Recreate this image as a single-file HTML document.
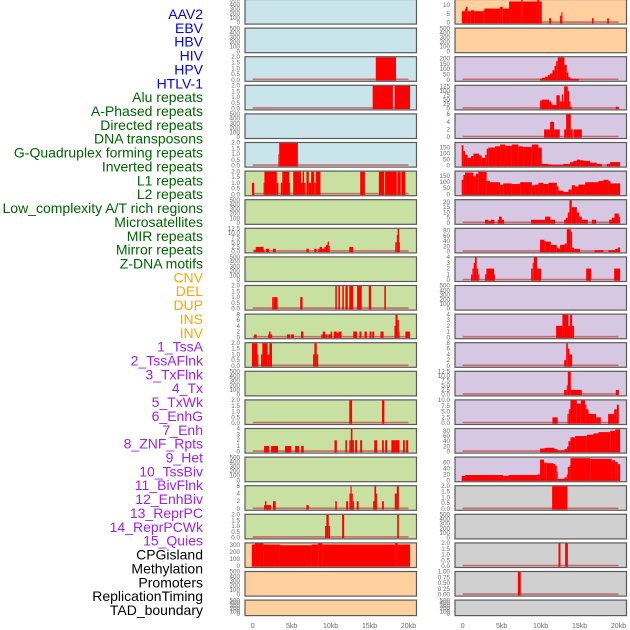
<!DOCTYPE html>
<html><head><meta charset="utf-8"><style>
html,body{margin:0;padding:0;background:#fff;width:630px;height:630px;overflow:hidden}
svg{display:block;font-family:"Liberation Sans",sans-serif}
</style></head><body>
<svg id="chart" width="630" height="630" viewBox="0 0 630 630"></svg>
<script>
const labels=["AAV2","EBV","HBV","HIV","HPV","HTLV-1","Alu repeats","A-Phased repeats","Directed repeats","DNA transposons","G-Quadruplex forming repeats","Inverted repeats","L1 repeats","L2 repeats","Low_complexity A/T rich regions","Microsatellites","MIR repeats","Mirror repeats","Z-DNA motifs","CNV","DEL","DUP","INS","INV","1_TssA","2_TssAFlnk","3_TxFlnk","4_Tx","5_TxWk","6_EnhG","7_Enh","8_ZNF_Rpts","9_Het","10_TssBiv","11_BivFlnk","12_EnhBiv","13_ReprPC","14_ReprPCWk","15_Quies","CPGisland","Methylation","Promoters","ReplicationTiming","TAD_boundary"];
const labelGroups=["v","v","v","v","v","v","r","r","r","r","r","r","r","r","r","r","r","r","r","c","c","c","c","c","s","s","s","s","s","s","s","s","s","s","s","s","s","s","s","o","o","o","o","o"];
const xTicks=[0,5,10,15,20];
const xTickLabels=["0","5kb","10kb","15kb","20kb"];
// middle column: [max, ticks, segments [startKb,endKb,value]] ; null = empty panel
const midMax=[null,null,2,2,null,2,2,null,12.5,null,2,8,2,null,2,4,null,6,2,330,null,null];
const midTicks=[null,null,[0,0.5,1,1.5,2],[0,0.5,1,1.5,2],null,[0,0.5,1,1.5,2],[0,0.5,1,1.5,2],null,[0,2.5,5,7.5,10,12.5],null,[0,0.5,1,1.5,2],[0,2,4,6,8],[0,0.5,1,1.5,2],null,[0,0.5,1,1.5,2],[0,1,2,3,4],null,[0,2,4,6],[0,0.5,1,1.5,2],[0,100,200,300],null,null];
const midBg=["b","b","b","b","b","b","g","g","g","g","g","g","g","g","g","g","g","g","g","o","o","o"];
const midSegs=[[],[],
[[15.8,18.4,2]],
[[15.4,18.0,2],[18.2,20.2,2]],
[],
[[3.3,3.4,1],[3.4,5.8,2]],
[[-0.1,0.2,1],[1.4,1.5,1],[1.5,3.1,2],[3.1,3.3,1],[3.6,3.8,1],[3.8,4.7,2],[4.7,4.8,1],[5.2,6.2,2],[6.2,6.4,1],[6.4,6.6,2],[6.6,6.8,1],[6.9,7.2,2],[7.2,7.5,1],[7.5,7.9,2],[7.9,8.1,1],[8.1,8.7,2],[13.8,14.4,2],[16.2,16.9,2],[17.0,18.5,2],[18.6,19.0,2],[19.1,19.6,2]],
[],
[[0.2,0.4,1],[0.4,1.4,2.5],[1.4,1.5,1],[1.7,2.1,1.5],[2.6,2.96,1.5],[6.9,7.2,1.5],[7.9,8.2,1.5],[8.4,8.6,1.5],[8.6,8.9,2.5],[8.9,9.2,1.5],[9.2,9.4,2.5],[9.4,9.6,3.5],[9.6,9.7,5],[9.7,9.8,5.5],[9.8,9.9,3],[12.4,12.9,2.5],[18.3,18.5,5],[18.5,18.6,9],[18.6,18.8,12.5],[18.8,18.9,5]],
[],
[[2.5,2.7,1],[2.7,3.2,1],[6.1,6.4,1],[10.6,10.8,2],[11.0,11.2,2],[11.5,11.7,2],[11.9,12.2,2],[12.4,12.9,2],[13.4,14.0,2],[14.9,15.2,2],[16.9,17.1,2]],
[[0.2,0.5,1],[1.97,2.1,1],[2.1,2.3,2],[2.3,2.5,1],[4.4,4.8,1],[4.9,5.3,1],[6.2,6.5,2],[8.8,9.0,1],[9.0,9.3,2],[9.3,9.6,1],[9.7,10.0,1],[10.0,10.2,2],[10.4,10.8,2],[10.8,11.0,1.5],[11.0,11.4,2],[12.9,13.4,2],[13.7,13.96,2],[14.35,14.65,2],[15.0,15.25,2],[15.35,15.6,2],[16.4,16.8,2],[18.2,18.33,4],[18.33,18.6,8],[18.6,18.76,6],[18.76,18.85,2],[19.6,20.2,2]],
[[-0.1,0.6,2],[0.6,0.73,1],[1.07,1.24,1],[1.24,1.92,2],[1.92,2.14,1],[2.14,2.48,2],[7.75,7.92,1],[7.92,8.22,2],[8.22,8.4,1]],
[],
[[12.4,12.76,2],[16.6,16.9,2]],
[[1.46,2.1,1],[2.36,3.25,1],[4.15,4.93,1],[5.44,5.95,1],[6.21,6.55,1],[10.5,10.8,2],[11.9,12.1,2],[12.4,12.6,2],[12.6,12.8,4],[12.8,13.0,2],[13.15,13.4,2],[13.8,14.05,2],[15.6,15.97,2],[16.6,16.83,2],[17.0,17.26,2],[17.8,18.3,2],[18.3,18.84,2],[19.3,19.53,2],[19.7,19.96,2]],
[],
[[1.46,1.58,1],[1.58,1.76,2],[1.76,2.35,1],[2.6,2.96,2],[6.9,7.2,1],[10.6,10.8,2],[12.0,12.25,2],[12.42,12.55,4],[12.55,12.7,6],[12.7,12.85,4],[12.85,13.0,2],[13.36,13.6,2],[15.46,15.63,2],[15.63,15.84,6],[15.84,15.97,4],[16.6,16.83,2],[18.24,18.5,4],[18.5,18.76,6]],
[[9.29,9.46,1],[9.46,9.76,2],[9.76,9.93,1],[11.48,11.74,2],[18.55,18.76,2]],
[[-0.1,0.3,310],[0.3,1.4,330],[1.4,3.5,310],[3.5,7.6,300],[7.6,8.4,310],[8.4,8.95,330],[8.95,18.3,310],[18.3,18.6,330],[18.6,20.2,310]],
[],[]];
const rightMax=[13,null,215,130,6,190,190,22,88,4,null,4,8,12.5,10,88,78,2,null,2,1,null];
const rightTicks=[[0,5,10],null,[0,50,100,150,200],[0,25,50,75,100,125],[0,2,4,6],[0,50,100,150],[0,50,100,150],[0,5,10,15,20],[0,20,40,60,80],[0,1,2,3,4],null,[0,1,2,3,4],[0,2,4,6,8],[0,2.5,5,7.5,10,12.5],[0,2.5,5,7.5,10],[0,20,40,60,80],[0,20,40,60],[0,0.5,1,1.5,2],null,[0,0.5,1,1.5,2],[0,0.25,0.5,0.75,1],null];
const rightTickFmt=[0,0,0,0,0,0,0,0,0,0,0,0,0,1,1,0,0,1,0,1,2,0];
const midTickFmt=[0,0,1,1,0,1,1,0,1,0,1,0,1,0,1,0,0,0,1,0,0,0];
const rightBg=["o","o","p","p","p","p","p","p","p","p","p","p","p","p","p","p","p","k","k","k","k","k"];
const rightSegs=[
[[-0.1,0.3,6.5],[0.3,0.43,8],[0.43,0.64,9],[0.64,1.03,6.5],[1.03,1.5,7],[1.5,2.65,6.5],[2.65,2.78,7],[2.78,4.8,8],[4.8,5.14,9],[5.14,5.95,8],[5.95,7.5,12],[7.5,7.7,13],[7.7,9.55,12],[9.55,9.85,13],[9.85,10.15,12],[11.1,11.35,2.5],[12.5,12.67,4],[12.67,12.8,6],[16.6,16.8,2.5],[18.55,18.76,2.5]],
[],
[[9.93,10.15,10],[10.15,10.58,20],[10.58,10.92,30],[10.92,11.22,45],[11.22,11.52,60],[11.52,11.78,90],[11.78,11.99,130],[11.99,12.2,175],[12.2,13.06,210],[13.06,13.36,140],[13.36,13.57,70],[13.57,13.83,25],[13.83,14.9,10]],
[[9.93,10.15,45],[10.15,11.09,50],[11.09,11.35,40],[11.35,11.52,30],[11.52,12.03,20],[12.03,12.46,75],[12.46,12.72,40],[12.72,12.89,80],[12.89,13.02,40],[13.02,13.49,125],[13.49,13.66,100],[13.66,13.83,40],[13.83,14.0,10],[19.66,20.05,10]],
[[10.45,11.22,2],[11.22,11.73,4],[11.73,12.46,2],[13.02,13.28,2],[13.28,13.88,6],[13.88,14.13,2],[14.22,15.29,2]],
[[-0.13,0.09,170],[0.09,0.3,120],[0.3,0.64,90],[0.64,1.07,65],[1.07,1.37,80],[1.37,2.1,100],[2.1,2.44,85],[2.44,2.87,65],[2.87,3.08,90],[3.08,3.3,140],[3.3,4.15,150],[4.15,4.8,160],[4.8,5.44,175],[5.44,6.3,165],[6.3,7.15,175],[7.15,7.79,160],[7.79,8.87,155],[8.87,9.72,175],[9.72,10.15,150],[10.15,11.0,15],[11.0,11.43,10],[11.43,12.93,5],[12.93,13.79,15],[13.79,14.22,30],[14.22,14.65,40],[14.65,15.07,50],[15.07,15.5,45],[15.5,16.36,40],[16.36,17.2,25],[17.2,17.86,15],[18.5,18.93,15],[18.93,20.21,30]],
[[-0.13,0.09,120],[0.09,0.3,160],[0.3,1.37,180],[1.37,1.67,150],[1.67,2.0,170],[2.0,3.08,185],[3.08,3.5,110],[3.5,4.8,100],[4.8,5.22,80],[5.22,6.3,90],[6.3,7.37,85],[7.37,8.87,100],[8.87,9.29,75],[9.29,9.72,80],[9.72,10.36,95],[10.36,11.0,85],[11.0,12.08,95],[12.08,12.3,65],[12.3,12.93,30],[12.93,13.58,20],[13.58,14.0,40],[14.0,14.43,75],[14.43,14.86,65],[14.86,15.72,80],[15.72,17.43,100],[17.43,18.07,110],[18.07,18.71,120],[18.71,18.97,110],[18.97,20.21,90]],
[[2.87,3.3,3],[3.3,3.64,2],[3.64,4.07,3],[4.5,4.67,3],[4.67,5.01,6],[5.01,5.31,3],[8.78,10.58,3],[10.58,11.26,6],[11.26,11.86,3],[13.02,13.23,3],[13.23,13.49,5],[13.49,13.7,10],[13.7,14.0,22],[14.0,14.65,15],[14.65,14.95,10],[14.95,15.29,6],[15.29,16.06,3],[16.57,17.13,3],[18.8,19.14,3],[19.14,19.49,5],[19.49,20.04,9],[20.04,20.21,6]],
[[9.93,10.49,45],[10.49,10.66,40],[10.66,11.31,38],[11.31,12.08,25],[12.08,12.3,15],[12.3,12.5,10],[12.5,13.06,25],[13.06,13.36,30],[13.36,13.88,85],[13.88,14.05,75],[14.05,14.3,15],[14.3,15.07,10],[16.92,18.07,5],[18.71,19.57,5],[19.57,19.91,10],[19.91,20.21,15]],
[[1.07,1.24,1],[1.24,1.41,2],[1.41,1.58,3],[1.58,1.8,4],[1.8,2.0,2],[2.0,2.14,1],[2.87,3.04,1],[3.04,4.03,2],[4.03,4.15,1],[8.78,8.99,2],[8.99,9.12,3],[9.12,9.55,4],[9.55,9.72,2],[9.72,10.06,2],[15.85,16.49,2],[19.44,20.21,2]],
[],
[[11.99,12.8,2],[12.8,13.58,4],[13.58,13.79,2],[13.79,14.05,4],[14.05,14.3,2]],
[[13.02,13.28,2],[13.28,13.49,8],[13.49,13.7,6],[13.7,14.05,4]],
[[13.02,13.36,2.5],[13.36,13.49,5],[13.49,13.88,12.5],[13.88,15.29,2.5],[19.66,20.04,2.5]],
[[11.52,12.2,2.5],[13.45,13.62,4],[13.62,13.83,6],[13.83,14.65,10],[14.65,15.16,8.5],[15.16,15.72,10],[15.72,15.89,8],[15.89,16.15,6],[16.15,17.13,4],[17.13,17.73,2.5],[18.67,19.44,4],[19.44,19.79,6],[19.79,20.04,8]],
[[9.93,10.49,12],[10.49,11.78,15],[11.78,12.2,10],[12.2,13.06,5],[13.06,13.4,10],[13.4,13.58,20],[13.58,13.83,40],[13.83,14.43,55],[14.43,15.93,60],[15.93,16.79,65],[16.79,17.43,70],[17.43,18.93,75],[18.93,19.57,80],[19.57,20.21,85]],
[[-0.13,0.3,15],[0.3,5.22,18],[5.22,5.87,15],[5.87,9.59,18],[9.59,9.93,20],[9.93,10.45,70],[10.45,10.79,60],[10.79,11.65,58],[11.65,11.86,55],[11.86,12.08,50],[12.08,12.2,30],[12.2,13.06,5],[13.06,13.36,10],[13.36,13.49,20],[13.49,13.7,45],[13.7,13.83,50],[13.83,16.36,75],[16.36,19.14,73],[19.14,19.57,68],[19.57,19.91,62],[19.91,20.21,55]],
[[11.48,13.45,2]],
[],
[[12.3,12.55,2],[13.15,13.5,2]],
[[7.08,7.45,1]],
[]];
const emptyTicks=[0,100,200,300,400,500];

const NS="http://www.w3.org/2000/svg";
const svg=document.getElementById("chart");
function mk(tag,attrs,parent){const e=document.createElementNS(NS,tag);for(const k in attrs)e.setAttribute(k,attrs[k]);(parent||svg).appendChild(e);return e;}
const bgColors={b:"#c9e4eb",g:"#c9e0a3",o:"#fdd09e",p:"#d6c7e3",k:"#d0d0d0"};
const groupColors={v:"#0000ee",r:"#006400",c:"#ffa500",s:"#a020f0",o:"#000000"};

// labels
labels.forEach((t,i)=>{
  const el=mk("text",{x:203,y:14+i*13.86+5,"text-anchor":"end","font-size":"14",fill:groupColors[labelGroups[i]]});
  el.textContent=t;
  
  
});

function panel(col,i,maxV,ticks,fmt,bg,segs){
  const left=col===0?245:455, right=col===0?416.5:626.5;
  const x0=left+7.7, kbW=7.79;
  const xs=kb=>x0+kb*kbW;
  const top=-0.5+28.6*i, H=(i===21?15.5:24.6);
  const g=mk("g",{});
  
  
  mk("rect",{x:left,y:top,width:right-left,height:H,fill:bgColors[bg],stroke:"#5a5a5a","stroke-width":1.2},g);
  const base=top+H-1.4, span=H-1.6;
  const isEmpty=maxV===null;
  const m=isEmpty?500:maxV;
  const ys=v=>base-v/m*span;
  const tk=isEmpty?emptyTicks:ticks;
  tk.forEach(v=>{
    const t=mk("text",{x:left-5,y:ys(v)+2,"text-anchor":"end","font-size":"6.3",fill:"#6a6a6a"},g);
    t.textContent=isEmpty?String(v):v.toFixed(fmt);
    
    
  });
  if(isEmpty)return;
  const bl=mk("line",{x1:xs(0),x2:xs(20),y1:base-0.6,y2:base-0.6,stroke:"rgba(200,70,70,0.75)","stroke-width":1.6},g);
  
  
  segs.forEach(s=>{
    const x1=Math.max(xs(s[0]),left+0.6), x2=Math.min(xs(s[1]),right-0.6);
    const y=ys(Math.min(s[2],m));
    const r=mk("rect",{x:x1,y:Math.max(y,top+0.6),width:Math.max(x2-x1,0.8),height:base-Math.max(y,top+0.6)+0.6,fill:"#ff0000"},g);
    
    
  });
}
for(let i=0;i<22;i++){
  panel(0,i,midMax[i],midTicks[i],midTickFmt[i],midBg[i],midSegs[i]);
  panel(1,i,rightMax[i],rightTicks[i],rightTickFmt[i],rightBg[i],rightSegs[i]);
}
// x axes
[252.7,462.7].forEach((x0,c)=>{
  xTicks.forEach((v,j)=>{
    const t=mk("text",{x:x0+v*7.79,y:628,"text-anchor":"middle","font-size":"7",fill:"#6a6a6a"});
    t.textContent=xTickLabels[j];
    
    
  });
});
</script>
</body></html>
